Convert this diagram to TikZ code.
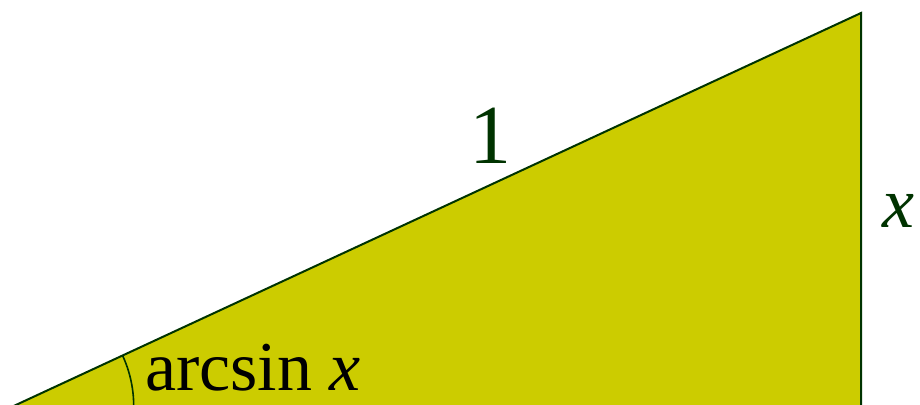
\documentclass[tikz,border=0pt]{standalone}
\usepackage{fontspec}
\setmainfont{Liberation Serif}
\usetikzlibrary{calc}
\definecolor{triFill}{HTML}{CCCC00}
\definecolor{triLine}{HTML}{003300}
\begin{document}
\begin{tikzpicture}[x=1pt,y=1pt,
  edge/.style={draw=triLine,line width=2pt,line join=miter},
  anglearc/.style={draw=triLine,line width=1.6pt},
  lbl/.style={inner sep=0pt,text=triLine,font=\fontsize{72}{72}\selectfont},
  anglelbl/.style={inner sep=0pt,text=black,font=\fontsize{70}{70}\selectfont}]
\useasboundingbox (0,0) rectangle (920,404);
\coordinate (A) at (13.7,-2);
\coordinate (B) at (861,-2);
\coordinate (C) at (861,391);
\fill[triFill] (A) -- (B) -- (C) -- cycle;
\draw[edge] (A) -- (B) -- (C) -- cycle;
\draw[anglearc] ($(A)+(120,0)$) arc[start angle=0,end angle=24.88,radius=120];
\node[lbl,font=\fontsize{84}{84}\selectfont] (one) at (490,268) {1};
\node[lbl,anchor=base west] (xs) at (882,176) {\textit{x}};
\node[anglelbl,anchor=base west] (ang) at (145,14) {arcsin \textit{x}};
\end{tikzpicture}
\end{document}
